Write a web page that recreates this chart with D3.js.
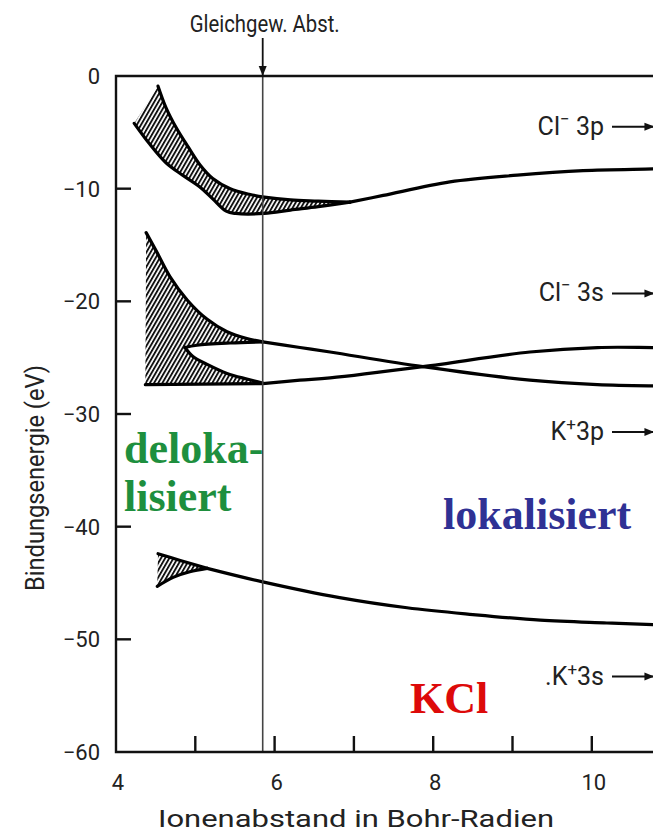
<!DOCTYPE html>
<html>
<head>
<meta charset="utf-8">
<script src="https://cdn.jsdelivr.net/npm/d3@7"></script>
<style>
  html, body { margin: 0; padding: 0; background: #fff; overflow: hidden; }
  svg { display: block; }
</style>
</head>
<body>
<div id="chart"></div>
<script>
// Achsen
const xTicks = [4, 5, 6, 7, 8, 9, 10];
const xTickLabels = [4, 6, 8, 10];
const yTicks = [0, -10, -20, -30, -40, -50, -60];
const eqDistance = 5.85; // Gleichgewichtsabstand (Bohr)

// Cl- 3p Band [Abstand, Energie]
const cl3pUpper = [[4.53, -0.9], [4.63, -2.8], [4.76, -4.6], [4.91, -6.3], [5.06, -7.9], [5.22, -9.1], [5.44, -10.0], [5.68, -10.5], [5.87, -10.75], [6.2, -11.0], [6.55, -11.1], [6.95, -11.2]];
const cl3pLower = [[4.23, -4.2], [4.42, -6.0], [4.63, -7.7], [4.84, -8.8], [5.05, -9.8], [5.22, -10.9], [5.39, -12.0], [5.51, -12.2], [5.87, -12.2], [6.2, -11.9], [6.55, -11.6], [6.95, -11.2]];
const cl3pTail = [[6.95, -11.2], [7.37, -10.6], [8.21, -9.4], [9.06, -8.8], [9.89, -8.4], [10.77, -8.25], [11, -8.2]];

// Cl- 3s Band
const cl3sOuter = [[4.38, -13.9], [4.52, -15.7], [4.68, -17.8], [4.90, -19.9], [5.15, -21.6], [5.40, -22.7], [5.65, -23.3], [5.85, -23.6]];
const cl3sLoopUpper = [[4.87, -24.1], [5.02, -23.9], [5.44, -23.7], [5.85, -23.6]];
const cl3sLoopLower = [[4.87, -24.1], [4.97, -24.9], [5.15, -25.6], [5.40, -26.4], [5.65, -26.9], [5.85, -27.25]];
const cl3sFloor = [[4.37, -27.4], [5.85, -27.3]];
const cl3sDown = [[5.85, -23.6], [6.32, -24.1], [6.70, -24.5], [7.87, -25.8], [9.22, -27.0], [10.07, -27.4], [10.77, -27.5], [11, -27.5]];
const cl3sUp = [[5.85, -27.3], [6.32, -27.0], [6.70, -26.8], [7.87, -25.8], [9.22, -24.5], [10.07, -24.1], [10.77, -24.1], [11, -24.1]];

// K+ 3p Band
const k3pUpper = [[4.53, -42.4], [4.81, -43.0], [5.15, -43.7]];
const k3pLower = [[4.52, -45.3], [4.72, -44.5], [4.93, -44.0], [5.15, -43.7]];
const k3pTail = [[5.15, -43.7], [5.85, -44.9], [6.82, -46.3], [7.67, -47.2], [8.50, -47.8], [9.35, -48.3], [10.19, -48.55], [10.77, -48.7], [11, -48.75]];

// freie Ionen (rechts)
const ionBase = ['Cl', 'Cl', 'K', '.K'];
const ionCharge = ['\u2212', '\u2212', '+', '+'];
const ionOrbital = ['\u00a03p', '\u00a03s', '3p', '3s'];
const ionEnergy = [-4.5, -19.3, -31.6, -53.3];

const width = 653;
const height = 839;
const margin = { top: 76, left: 116, bottom: 87 };

const x = d3.scaleLinear().domain([4, 11]).range([margin.left, margin.left + 7 * 79.3]);
const y = d3.scaleLinear().domain([0, -60]).range([margin.top, height - margin.bottom]);

const svg = d3.select('#chart').append('svg')
  .attr('width', width)
  .attr('height', height)
  .attr('viewBox', [0, 0, width, height]);

const defs = svg.append('defs');

// Schraffur
defs.append('pattern')
  .attr('id', 'hatch')
  .attr('patternUnits', 'userSpaceOnUse')
  .attr('width', 3.6)
  .attr('height', 10)
  .attr('patternTransform', 'rotate(30)')
  .append('rect')
  .attr('x', 0).attr('y', 0)
  .attr('width', 1.9).attr('height', 10)
  .attr('fill', '#111');

defs.append('marker')
  .attr('id', 'arrow')
  .attr('viewBox', '0 0 10 10')
  .attr('refX', 10).attr('refY', 5)
  .attr('markerUnits', 'userSpaceOnUse')
  .attr('markerWidth', 10).attr('markerHeight', 10)
  .attr('orient', 'auto')
  .append('path')
  .attr('d', 'M0,1L10,5L0,9Z')
  .attr('fill', '#111');

defs.append('clipPath').attr('id', 'plot-clip')
  .append('rect')
  .attr('x', x(4)).attr('y', y(0))
  .attr('width', x(11) - x(4)).attr('height', y(-60) - y(0));

const font = 'Roboto, "DejaVu Sans", sans-serif';
const serif = '"Liberation Serif", "Times New Roman", serif';

const line = d3.line()
  .x(d => x(d[0]))
  .y(d => y(d[1]))
  .curve(d3.curveCatmullRom.alpha(0.5));

// geschlossene Fläche aus mehreren Randstücken
function ring(...segs) {
  return segs.map((s, i) => {
    const d = line(s);
    return i ? d.replace(/^M/, 'L') : d;
  }).join('') + 'Z';
}

const plot = svg.append('g').attr('clip-path', 'url(#plot-clip)');

// Schraffierte Bereiche
plot.append('path')
  .attr('d', ring(cl3pUpper, cl3pLower.slice().reverse()))
  .attr('fill', 'url(#hatch)');

plot.append('path')
  .attr('d', ring(cl3sOuter, cl3sLoopUpper.slice().reverse(), cl3sLoopLower, cl3sFloor.slice().reverse()))
  .attr('fill', 'url(#hatch)');

plot.append('path')
  .attr('d', ring(k3pUpper, k3pLower.slice().reverse()))
  .attr('fill', 'url(#hatch)');

// Gleichgewichtsabstand
svg.append('line')
  .attr('x1', x(eqDistance)).attr('x2', x(eqDistance))
  .attr('y1', y(0)).attr('y2', y(-60))
  .attr('stroke', '#444')
  .attr('stroke-width', 1.6);

svg.append('line')
  .attr('x1', x(eqDistance)).attr('x2', x(eqDistance))
  .attr('y1', 38).attr('y2', y(0))
  .attr('stroke', '#111')
  .attr('stroke-width', 1.8)
  .attr('marker-end', 'url(#arrow)');

svg.append('text')
  .attr('x', x(eqDistance) + 2)
  .attr('y', 32)
  .attr('text-anchor', 'middle')
  .attr('font-family', font)
  .attr('font-size', 24)
  .attr('textLength', 150)
  .attr('lengthAdjust', 'spacingAndGlyphs')
  .attr('fill', '#222')
  .text('Gleichgew. Abst.');

// Bandkurven
const curves = [cl3pUpper, cl3pLower, cl3pTail,
  cl3sOuter, cl3sLoopUpper, cl3sLoopLower, cl3sFloor, cl3sDown, cl3sUp,
  k3pUpper, k3pLower, k3pTail];

plot.selectAll('path.band')
  .data(curves)
  .join('path')
  .attr('class', 'band')
  .attr('d', line)
  .attr('fill', 'none')
  .attr('stroke', '#000')
  .attr('stroke-width', 3.2)
  .attr('stroke-linejoin', 'round')
  .attr('stroke-linecap', 'round');

// Rahmen / Achsen
const axes = svg.append('g')
  .attr('stroke', '#111')
  .attr('stroke-width', 2.4)
  .attr('fill', 'none');

axes.append('path')
  .attr('d', `M${x(11)},${y(0)}H${x(4)}V${y(-60)}H${x(11)}`);

axes.selectAll('line.ytick')
  .data(yTicks.slice(1, -1))
  .join('line')
  .attr('class', 'ytick')
  .attr('x1', x(4)).attr('x2', x(4) + 15)
  .attr('y1', d => y(d)).attr('y2', d => y(d));

axes.selectAll('line.xtick')
  .data(xTicks.slice(1))
  .join('line')
  .attr('class', 'xtick')
  .attr('x1', d => x(d)).attr('x2', d => x(d))
  .attr('y1', y(-60)).attr('y2', y(-60) - 16);

svg.selectAll('text.ylab')
  .data(yTicks)
  .join('text')
  .attr('class', 'ylab')
  .attr('x', x(4) - 16)
  .attr('y', d => y(d) + 8)
  .attr('text-anchor', 'end')
  .attr('font-family', font)
  .attr('font-size', 22)
  .attr('fill', '#222')
  .text(d => d === 0 ? '0' : '\u2212' + Math.abs(d));

svg.selectAll('text.xlab')
  .data(xTickLabels)
  .join('text')
  .attr('class', 'xlab')
  .attr('x', d => x(d) + 2)
  .attr('y', y(-60) + 38)
  .attr('text-anchor', 'middle')
  .attr('font-family', font)
  .attr('font-size', 22)
  .attr('fill', '#222')
  .text(d => d);

svg.append('text')
  .attr('x', 356)
  .attr('y', 827)
  .attr('text-anchor', 'middle')
  .attr('font-family', font)
  .attr('font-size', 24)
  .attr('textLength', 396)
  .attr('lengthAdjust', 'spacingAndGlyphs')
  .attr('fill', '#222')
  .text('Ionenabstand in Bohr-Radien');

svg.append('text')
  .attr('transform', 'translate(44,478) rotate(-90)')
  .attr('text-anchor', 'middle')
  .attr('font-family', font)
  .attr('font-size', 26)
  .attr('textLength', 226)
  .attr('lengthAdjust', 'spacingAndGlyphs')
  .attr('fill', '#222')
  .text('Bindungsenergie (eV)');

// Niveaus der freien Ionen
const ions = svg.selectAll('g.ion')
  .data(ionEnergy)
  .join('g')
  .attr('class', 'ion');

ions.append('line')
  .attr('x1', 612).attr('x2', x(10.79))
  .attr('y1', d => y(d)).attr('y2', d => y(d))
  .attr('stroke', '#111')
  .attr('stroke-width', 2)
  .attr('marker-end', 'url(#arrow)');

const ionText = ions.append('text')
  .attr('x', 604)
  .attr('y', d => y(d) + 8)
  .attr('text-anchor', 'end')
  .attr('font-family', font)
  .attr('font-size', 25)
  .attr('fill', '#222');

ionText.append('tspan').text((d, i) => ionBase[i]);
ionText.append('tspan')
  .attr('dy', -10)
  .attr('font-size', 17)
  .text((d, i) => ionCharge[i]);
ionText.append('tspan')
  .attr('dy', 10)
  .text((d, i) => ionOrbital[i]);

// farbige Beschriftungen
const notes = [
  { text: 'deloka-', x: 124, y: 463, color: '#1e8f3e' },
  { text: 'lisiert', x: 124, y: 511, color: '#1e8f3e' },
  { text: 'lokalisiert', x: 443, y: 529, color: '#2f3194' },
  { text: 'KCl', x: 410, y: 713, color: '#dd0a0a' }
];

svg.selectAll('text.note')
  .data(notes)
  .join('text')
  .attr('class', 'note')
  .attr('x', d => d.x)
  .attr('y', d => d.y)
  .attr('font-family', serif)
  .attr('font-weight', 'bold')
  .attr('font-size', 44)
  .attr('fill', d => d.color)
  .text(d => d.text);
</script>
</body>
</html>
